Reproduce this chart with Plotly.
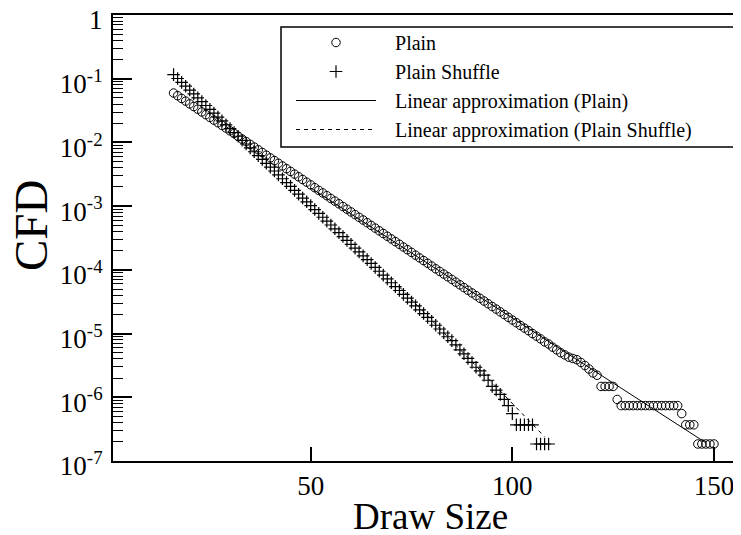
import plotly.graph_objects as go

# ---- data ----
plain_x = list(range(16, 151))
plain_y = [
    0.0596, 0.0541, 0.0490, 0.0445, 0.0403, 0.0366, 0.0332, 0.0301, 0.0273, 0.0247,
    0.0224, 0.0204, 0.0185, 0.0168, 0.0152, 0.0138, 0.0125, 0.0113, 0.0103, 0.00931,
    0.00845, 0.00767, 0.00695, 0.00631, 0.00572, 0.00519, 0.00471, 0.00427, 0.00387, 0.00351,
    0.00318, 0.00289, 0.00262, 0.00238, 0.00216, 0.00195, 0.00177, 0.00161, 0.00146, 0.00132,
    0.00120, 0.00109, 0.000987, 0.000895, 0.000812, 0.000736, 0.000668, 0.000606, 0.000550, 0.000498,
    0.000452, 0.000410, 0.000372, 0.000337, 0.000306, 0.000277, 0.000252, 0.000228, 0.000207, 0.000188,
    0.000170, 0.000154, 0.000140, 0.000127, 0.000115, 0.000104, 9.47e-05, 8.59e-05, 7.79e-05, 7.07e-05,
    6.41e-05, 5.82e-05, 5.27e-05, 4.78e-05, 4.34e-05, 3.94e-05, 3.57e-05, 3.24e-05, 2.94e-05, 2.66e-05,
    2.42e-05, 2.19e-05, 1.99e-05, 1.80e-05, 1.63e-05, 1.48e-05, 1.34e-05, 1.22e-05, 1.11e-05, 1.00e-05,
    9.10e-06, 8.26e-06, 7.40e-06, 6.85e-06, 6.11e-06, 5.55e-06, 5.00e-06, 4.63e-06, 4.26e-06, 4.07e-06,
    3.89e-06, 3.52e-06, 3.15e-06, 2.78e-06, 2.41e-06, 2.22e-06, 1.48e-06, 1.48e-06, 1.48e-06, 1.48e-06,
    9.25e-07, 7.40e-07, 7.40e-07, 7.40e-07, 7.40e-07, 7.40e-07, 7.40e-07, 7.40e-07, 7.40e-07, 7.40e-07,
    7.40e-07, 7.40e-07, 7.40e-07, 7.40e-07, 7.40e-07, 7.40e-07, 5.55e-07, 3.70e-07, 3.70e-07, 3.70e-07,
    1.85e-07, 1.85e-07, 1.85e-07, 1.85e-07, 1.85e-07,
]

shuffle_x = list(range(16, 110))
shuffle_y = [
    0.116, 0.1008, 0.0877, 0.0763, 0.0664, 0.0577, 0.0502, 0.0437, 0.0380, 0.0331,
    0.0288, 0.0250, 0.0218, 0.0189, 0.0165, 0.0143, 0.0125, 0.0108, 0.00944, 0.00821,
    0.00714, 0.00621, 0.00541, 0.00470, 0.00409, 0.00356, 0.00310, 0.00269, 0.00234, 0.00204,
    0.00177, 0.00154, 0.00134, 0.00117, 0.00102, 0.000884, 0.000769, 0.000669, 0.000582, 0.000506,
    0.000441, 0.000383, 0.000333, 0.000290, 0.000252, 0.000219, 0.000191, 0.000166, 0.000145, 0.000126,
    0.000109, 9.51e-05, 8.28e-05, 7.20e-05, 6.27e-05, 5.45e-05, 4.74e-05, 4.12e-05, 3.59e-05, 3.12e-05,
    2.72e-05, 2.36e-05, 2.06e-05, 1.79e-05, 1.56e-05, 1.35e-05, 1.18e-05, 1.02e-05, 8.91e-06, 7.75e-06,
    6.66e-06, 5.55e-06, 4.81e-06, 4.07e-06, 3.52e-06, 2.96e-06, 2.59e-06, 2.22e-06, 1.85e-06, 1.48e-06,
    1.30e-06, 1.11e-06, 9.25e-07, 7.40e-07, 5.55e-07, 3.70e-07, 3.70e-07, 3.70e-07, 3.70e-07, 3.70e-07,
    1.85e-07, 1.85e-07, 1.85e-07, 1.85e-07,
]

fit_plain_x = [50, 148]
fit_plain_y = [0.00193, 1.93e-07]
fit_shuffle_x = [72, 108]
fit_shuffle_y = [5.41e-05, 2.40e-07]

x_tickvals = [50, 100, 150]
y_tickvals = [1e-7, 1e-6, 1e-5, 1e-4, 1e-3, 1e-2, 1e-1, 1]
y_ticktext = ["10<sup>-7</sup>", "10<sup>-6</sup>", "10<sup>-5</sup>", "10<sup>-4</sup>",
              "10<sup>-3</sup>", "10<sup>-2</sup>", "10<sup>-1</sup>", "1"]

legend_names = ["Plain", "Plain Shuffle", "Linear approximation (Plain)",
                "Linear approximation (Plain Shuffle)"]

FONT = "Liberation Serif"
OFF = 8                              # page body margin of the html page
L, R, T, B = 113, 741, 15, 461       # wanted plot-area edges in window pixels
PW, PH = R - L, B - T


def px(xp):
    return (xp - L) / PW


def py(yp):
    return (B - yp) / PH


pad = "\u2002\u2009"

fig = go.Figure()
fig.add_trace(go.Scatter(
    x=plain_x, y=plain_y, mode="markers", name=pad + legend_names[0],
    marker=dict(symbol="circle-open", size=8.5, color="black", line=dict(width=1, color="black")),
))
fig.add_trace(go.Scatter(
    x=shuffle_x, y=shuffle_y, mode="markers", name=pad + legend_names[1],
    marker=dict(symbol="cross-thin-open", size=9, color="black", line=dict(width=1.2, color="black")),
))
fig.add_trace(go.Scatter(
    x=fit_plain_x, y=fit_plain_y, mode="lines", name=pad + legend_names[2],
    line=dict(color="black", width=1),
))
fig.add_trace(go.Scatter(
    x=fit_shuffle_x, y=fit_shuffle_y, mode="lines", name=pad + legend_names[3],
    line=dict(color="black", width=1, dash="4px,4px"),
))

# legend frame
fig.add_shape(type="rect", xref="paper", yref="paper",
              x0=px(281), x1=px(738), y0=py(147), y1=py(27),
              line=dict(color="black", width=1.5), fillcolor="rgba(0,0,0,0)", layer="above")

fig.add_annotation(text="Draw Size", xref="paper", yref="paper", x=px(430), y=py(517),
                   xanchor="center", yanchor="middle", showarrow=False,
                   font=dict(family=FONT, size=37, color="black"))
fig.add_annotation(text="CFD", xref="paper", yref="paper", x=px(31), y=py(226),
                   xanchor="center", yanchor="middle", showarrow=False, textangle=-90,
                   font=dict(family=FONT, size=47, color="black"))

fig.update_layout(
    width=741, height=535,
    margin=dict(l=L - OFF, r=741 - R + OFF, t=T - OFF, b=535 - B + OFF),
    paper_bgcolor="white", plot_bgcolor="white",
    font=dict(family=FONT, color="black"),
    showlegend=True,
    legend=dict(
        x=px(291), y=py(23), xanchor="left", yanchor="top",
        font=dict(family=FONT, size=20, color="black"),
        bgcolor="rgba(0,0,0,0)", borderwidth=0, itemwidth=80,
        tracegroupgap=0,
    ),
    xaxis=dict(
        range=[0.98, 156.7], tickmode="array", tickvals=x_tickvals,
        ticks="inside", ticklen=14, tickwidth=1.5, tickcolor="black",
        showline=True, linecolor="black", linewidth=2, mirror=True,
        showgrid=False, zeroline=False, automargin=False,
        tickfont=dict(family=FONT, size=27, color="black"),
    ),
    yaxis=dict(
        type="log", range=[-7, 0], tickmode="array", tickvals=y_tickvals, ticktext=y_ticktext,
        ticks="inside", ticklen=19, tickwidth=1.5, tickcolor="black",
        minor=dict(ticks="inside", ticklen=10, tickwidth=1.2, tickcolor="black", dtick="D1", showgrid=False),
        showline=True, linecolor="black", linewidth=2, mirror=False,
        showgrid=False, zeroline=False, automargin=False, ticklabelstandoff=3,
        ticklabelshift=5, ticklabeloverflow="allow",
        tickfont=dict(family=FONT, size=27, color="black"),
    ),
)

fig.write_html("out.html")
